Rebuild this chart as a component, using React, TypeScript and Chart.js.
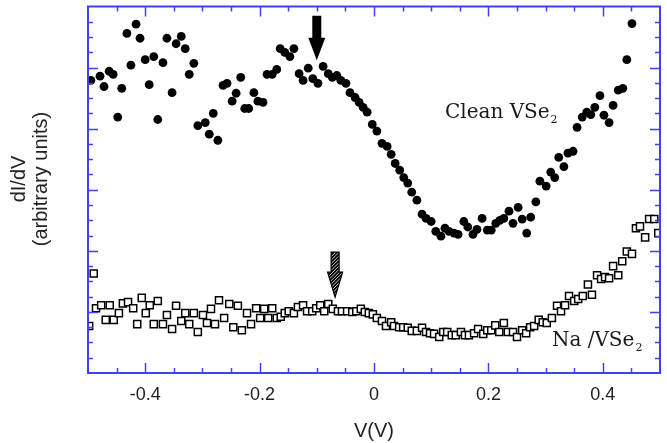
import { useEffect, useRef } from 'react';
import { Chart, registerables } from 'chart.js';

Chart.register(...registerables);

// ---- data ----
const cleanV = [
  -0.495, -0.479, -0.472, -0.463, -0.456, -0.448, -0.441, -0.432, -0.425, -0.416,
  -0.409, -0.400, -0.393, -0.385, -0.378, -0.369, -0.362, -0.353, -0.346, -0.337,
  -0.330, -0.323, -0.315, -0.308, -0.295, -0.288, -0.281, -0.273, -0.264, -0.257,
  -0.248, -0.241, -0.233, -0.226, -0.219, -0.210, -0.203, -0.194, -0.187, -0.178,
  -0.170, -0.164, -0.156, -0.147, -0.140, -0.131, -0.124, -0.115, -0.107, -0.098,
  -0.089, -0.080, -0.073, -0.065, -0.058, -0.049, -0.042, -0.033, -0.026, -0.019,
  -0.012, -0.003, 0.005, 0.014, 0.023, 0.030, 0.037, 0.045, 0.052, 0.059,
  0.066, 0.075, 0.084, 0.091, 0.100, 0.108, 0.117, 0.124, 0.131, 0.140,
  0.147, 0.157, 0.164, 0.173, 0.180, 0.189, 0.198, 0.205, 0.213, 0.220,
  0.227, 0.236, 0.243, 0.252, 0.259, 0.267, 0.274, 0.283, 0.290, 0.301,
  0.309, 0.316, 0.323, 0.332, 0.339, 0.348, 0.355, 0.364, 0.372, 0.379,
  0.386, 0.395, 0.402, 0.411, 0.418, 0.427, 0.435, 0.442, 0.451,
];
const cleanDIdV = [
  4.79, 4.86, 4.69, 4.94, 4.89, 4.19, 4.66, 5.56, 5.04, 5.71,
  5.48, 5.13, 4.72, 5.18, 4.15, 5.08, 5.48, 4.59, 5.39, 5.51,
  5.31, 4.89, 5.07, 4.05, 4.10, 3.91, 4.25, 3.81, 4.71, 4.74,
  4.45, 4.58, 4.84, 4.33, 4.33, 4.59, 4.45, 4.43, 4.89, 4.89,
  4.97, 5.31, 5.25, 5.18, 5.31, 4.90, 4.79, 4.99, 4.82, 4.74,
  5.02, 4.90, 4.84, 4.87, 4.79, 4.74, 4.59, 4.51, 4.43, 4.35,
  4.27, 4.07, 3.96, 3.76, 3.71, 3.58, 3.43, 3.32, 3.20, 3.11,
  2.96, 2.83, 2.60, 2.53, 2.48, 2.32, 2.24, 2.37, 2.32, 2.29,
  2.27, 2.48, 2.39, 2.27, 2.35, 2.53, 2.34, 2.34, 2.45, 2.50,
  2.53, 2.65, 2.45, 2.71, 2.52, 2.29, 2.55, 2.80, 3.14, 3.06,
  3.29, 3.20, 3.53, 3.38, 3.60, 3.63, 4.02, 4.19, 4.27, 4.23,
  4.35, 4.54, 4.22, 4.10, 4.38, 4.63, 4.66, 5.13, 5.72,
];

const naV = [
  -0.498, -0.490, -0.486, -0.477, -0.469, -0.462, -0.455, -0.446, -0.439, -0.430,
  -0.421, -0.414, -0.406, -0.399, -0.392, -0.385, -0.378, -0.369, -0.362, -0.353,
  -0.346, -0.337, -0.330, -0.323, -0.315, -0.308, -0.299, -0.292, -0.285, -0.278,
  -0.271, -0.262, -0.253, -0.246, -0.238, -0.231, -0.222, -0.215, -0.206, -0.199,
  -0.192, -0.185, -0.178, -0.170, -0.163, -0.156, -0.149, -0.140, -0.133, -0.124,
  -0.117, -0.108, -0.101, -0.094, -0.087, -0.080, -0.072, -0.063, -0.056, -0.047,
  -0.038, -0.031, -0.023, -0.016, -0.009, -0.002, 0.005, 0.014, 0.021, 0.030,
  0.035, 0.044, 0.051, 0.059, 0.066, 0.075, 0.084, 0.091, 0.098, 0.105,
  0.114, 0.121, 0.128, 0.136, 0.143, 0.152, 0.159, 0.166, 0.175, 0.182,
  0.191, 0.198, 0.205, 0.212, 0.219, 0.227, 0.234, 0.243, 0.250, 0.259,
  0.266, 0.273, 0.280, 0.288, 0.295, 0.302, 0.311, 0.320, 0.327, 0.334,
  0.341, 0.350, 0.357, 0.365, 0.374, 0.381, 0.390, 0.397, 0.404, 0.411,
  0.418, 0.427, 0.434, 0.442, 0.451, 0.458, 0.465, 0.474, 0.481, 0.490,
  0.497,
];
const naDIdV = [
  0.77, 1.63, 1.06, 1.11, 0.87, 1.11, 0.87, 0.98, 1.14, 1.16,
  1.06, 0.80, 1.23, 0.98, 1.11, 0.80, 1.18, 0.80, 0.95, 0.72,
  1.10, 0.85, 0.98, 0.80, 0.98, 0.67, 0.95, 0.82, 1.05, 0.80,
  1.19, 0.90, 1.13, 0.75, 1.10, 0.70, 0.98, 0.80, 1.06, 0.90,
  1.05, 0.90, 1.06, 0.90, 0.92, 0.98, 1.01, 0.98, 1.08, 1.11,
  1.01, 1.01, 1.06, 1.11, 1.01, 1.13, 1.05, 1.01, 1.01, 1.01,
  1.00, 1.01, 1.05, 1.00, 0.98, 0.96, 0.90, 0.85, 0.77, 0.83,
  0.77, 0.75, 0.75, 0.74, 0.69, 0.69, 0.74, 0.67, 0.65, 0.64,
  0.59, 0.67, 0.67, 0.62, 0.62, 0.67, 0.62, 0.62, 0.65, 0.72,
  0.64, 0.70, 0.70, 0.78, 0.67, 0.82, 0.67, 0.67, 0.59, 0.70,
  0.65, 0.75, 0.77, 0.87, 0.83, 0.82, 0.90, 1.10, 1.01, 1.11,
  1.26, 1.18, 1.21, 1.26, 1.45, 1.28, 1.60, 1.54, 1.57, 1.55,
  1.75, 1.60, 1.83, 1.99, 1.95, 2.37, 2.40, 2.22, 2.52, 2.52,
  2.29,
];

const xTickValues = [-0.4, -0.2, 0, 0.2, 0.4];
const X_MIN = -0.5;
const X_MAX = 0.5;
const Y_MIN = 0;
const Y_MAX = 6;

// annotation anchors (data units)
const solidArrow = { x: -0.1, top: 5.85, neck: 5.49, tip: 5.12 };
const hatchArrow = { x: -0.068, top: 1.98, neck: 1.65, tip: 1.24 };
const cleanLabel = { x: 0.124, y: 4.17, text: 'Clean VSe', sub: '2' };
const naLabel = { x: 0.311, y: 0.44, text: 'Na /VSe', sub: '2' };

const BLUE = '#4040f0';
const SANS = '"Liberation Sans", Arial, sans-serif';
const SERIF = '"DejaVu Serif", serif';

function arrowPath(ctx: CanvasRenderingContext2D, cx: number, top: number, neck: number, tip: number, shaftW: number, headW: number) {
  ctx.beginPath();
  ctx.moveTo(cx - shaftW / 2, top);
  ctx.lineTo(cx + shaftW / 2, top);
  ctx.lineTo(cx + shaftW / 2, neck);
  ctx.lineTo(cx + headW / 2, neck);
  ctx.lineTo(cx, tip);
  ctx.lineTo(cx - headW / 2, neck);
  ctx.lineTo(cx - shaftW / 2, neck);
  ctx.closePath();
}

const framePlugin = {
  id: 'frameTicks',
  afterDatasetsDraw(chart: any) {
    const { ctx, chartArea, scales } = chart;
    const { left, right, top, bottom } = chartArea;
    const xs = scales.x;
    const ys = scales.y;
    ctx.save();
    ctx.strokeStyle = BLUE;
    ctx.lineWidth = 1.5;
    for (let k = 1; k < 20; k++) {
      const v = X_MIN + k * 0.05;
      const px = Math.round(xs.getPixelForValue(v)) + 0.5;
      const len = k % 4 === 2 ? 10 : 5;
      ctx.beginPath();
      ctx.moveTo(px, bottom);
      ctx.lineTo(px, bottom - len);
      ctx.moveTo(px, top);
      ctx.lineTo(px, top + len);
      ctx.stroke();
    }
    for (let k = 1; k < 24; k++) {
      const v = Y_MIN + k * 0.25;
      const py = Math.round(ys.getPixelForValue(v)) + 0.5;
      const len = k % 4 === 0 ? 10 : 5;
      ctx.beginPath();
      ctx.moveTo(left, py);
      ctx.lineTo(left + len, py);
      ctx.moveTo(right, py);
      ctx.lineTo(right - len, py);
      ctx.stroke();
    }
    ctx.lineWidth = 2;
    ctx.strokeRect(left, top, right - left, bottom - top);
    ctx.restore();
  },
};

const annotationPlugin = {
  id: 'annotations',
  afterDraw(chart: any) {
    const { ctx, scales } = chart;
    const xs = scales.x;
    const ys = scales.y;
    ctx.save();

    // y axis title
    ctx.fillStyle = '#222';
    ctx.font = `20px ${SANS}`;
    ctx.textAlign = 'center';
    ctx.textBaseline = 'middle';
    const cy = 179;
    ctx.save();
    ctx.translate(19, cy);
    ctx.rotate(-Math.PI / 2);
    ctx.fillText('dI/dV', 0, 0);
    ctx.restore();
    ctx.save();
    ctx.translate(41.5, cy);
    ctx.rotate(-Math.PI / 2);
    ctx.fillText('(arbitrary units)', 0, 0);
    ctx.restore();

    // series labels
    ctx.textAlign = 'left';
    ctx.textBaseline = 'alphabetic';
    for (const lab of [cleanLabel, naLabel]) {
      const px = xs.getPixelForValue(lab.x);
      const py = ys.getPixelForValue(lab.y);
      ctx.font = `20px ${SERIF}`;
      ctx.fillStyle = '#1a1a1a';
      ctx.fillText(lab.text, px, py);
      const w = ctx.measureText(lab.text).width;
      ctx.font = `11px ${SERIF}`;
      ctx.fillText(lab.sub, px + w + 1, py + 5);
    }

    // solid arrow
    {
      const cx = xs.getPixelForValue(solidArrow.x);
      arrowPath(ctx, cx, ys.getPixelForValue(solidArrow.top), ys.getPixelForValue(solidArrow.neck), ys.getPixelForValue(solidArrow.tip), 9, 17);
      ctx.fillStyle = '#000';
      ctx.fill();
    }
    // hatched arrow
    {
      const cx = xs.getPixelForValue(hatchArrow.x);
      const t = ys.getPixelForValue(hatchArrow.top);
      const n = ys.getPixelForValue(hatchArrow.neck);
      const tp = ys.getPixelForValue(hatchArrow.tip);
      arrowPath(ctx, cx, t, n, tp, 8, 15);
      ctx.fillStyle = '#000';
      ctx.fill();
      ctx.save();
      ctx.clip();
      ctx.strokeStyle = '#fff';
      ctx.lineWidth = 0.8;
      for (let d = -40; d < 60; d += 3.4) {
        ctx.beginPath();
        ctx.moveTo(cx - 10, t + d + 10);
        ctx.lineTo(cx + 10, t + d - 10);
        ctx.stroke();
      }
      ctx.restore();
      arrowPath(ctx, cx, t, n, tp, 8, 15);
      ctx.strokeStyle = '#000';
      ctx.lineWidth = 1.2;
      ctx.stroke();
    }
    ctx.restore();
  },
};

export default function App() {
  const ref = useRef<HTMLCanvasElement | null>(null);
  useEffect(() => {
    if (!ref.current) return;
    const chart = new Chart(ref.current, {
      type: 'scatter',
      data: {
        datasets: [
          {
            label: 'Clean VSe2',
            data: cleanV.map((v, i) => ({ x: v, y: cleanDIdV[i] })),
            pointStyle: 'circle',
            pointRadius: 4.4,
            pointBackgroundColor: '#000',
            pointBorderColor: '#000',
            pointBorderWidth: 0,
            showLine: false,
          },
          {
            label: 'Na/VSe2',
            data: naV.map((v, i) => ({ x: v, y: naDIdV[i] })),
            pointStyle: 'rect',
            pointRadius: 5,
            pointBackgroundColor: '#fff',
            pointBorderColor: '#000',
            pointBorderWidth: 1.5,
            showLine: false,
          },
        ],
      },
      options: {
        animation: false,
        responsive: true,
        maintainAspectRatio: false,
        layout: { padding: { top: 6, right: 7, left: 0, bottom: 0 } },
        plugins: { legend: { display: false }, tooltip: { enabled: false } },
        scales: {
          x: {
            type: 'linear',
            min: X_MIN,
            max: X_MAX,
            grid: { display: false, drawTicks: false },
            border: { display: false },
            afterBuildTicks: (s: any) => {
              s.ticks = xTickValues.map((v) => ({ value: v }));
            },
            afterFit: (s: any) => {
              s.height = 70;
            },
            ticks: {
              padding: 11,
              autoSkip: false,
              maxRotation: 0,
              color: '#222',
              font: { family: SANS, size: 18 },
              callback: (v: any) => (Number(v) === 0 ? '0' : Number(v).toFixed(1)),
            },
            title: {
              display: true,
              text: 'V(V)',
              color: '#222',
              font: { family: SANS, size: 20 },
              padding: { top: 0, bottom: 0 },
            },
          },
          y: {
            type: 'linear',
            min: Y_MIN,
            max: Y_MAX,
            grid: { display: false, drawTicks: false },
            border: { display: false },
            ticks: { display: false },
            afterFit: (s: any) => {
              s.width = 88;
            },
          },
        },
      },
      plugins: [framePlugin, annotationPlugin],
    });
    return () => chart.destroy();
  }, []);
  return (
    <div style={{ position: 'absolute', left: 0, top: 0, width: 667, height: 443, background: '#fff' }}>
      <canvas ref={ref} />
    </div>
  );
}
